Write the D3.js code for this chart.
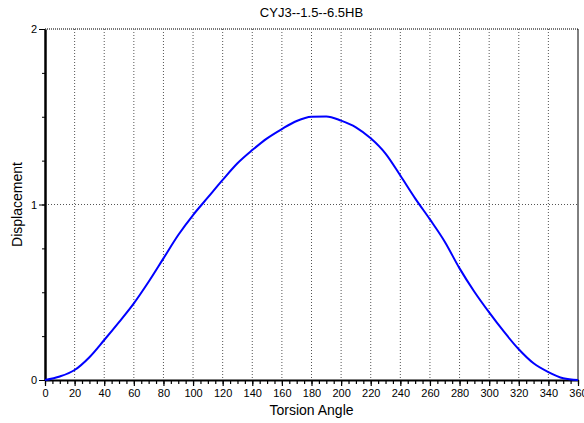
<!DOCTYPE html>
<html>
<head>
<meta charset="utf-8">
<script src="https://cdn.jsdelivr.net/npm/d3@7"></script>
<style>
  body { margin: 0; background: #fff; }
  text { font-family: "Liberation Sans", Arial, sans-serif; fill: #000; }
</style>
</head>
<body>
<div id="chart"></div>
<script>
// torsion angle (deg) vs displacement
var angles = [0,10,20,30,40,50,60,70,80,90,100,110,120,130,140,150,160,170,180,
              190,200,210,220,230,240,250,260,270,280,290,300,310,320,330,340,350,360];
var displacement = [0,0.02,0.057,0.13,0.228,0.33,0.437,0.56,0.693,0.826,0.94,1.04,1.14,1.235,1.31,1.377,1.43,1.476,1.50,
                    1.502,1.478,1.44,1.377,1.29,1.165,1.035,0.915,0.788,0.636,0.503,0.385,0.275,0.175,0.095,0.045,0.01,0];
var xTicks = d3.range(0, 361, 20);
var yTicks = [0, 1, 2];
var title = "CYJ3--1.5--6.5HB";

var data = angles.map(function(a, i) { return { a: a, v: displacement[i] }; });

const margin = { top: 29, right: 6, bottom: 43, left: 45 };
const width = 584 - margin.left - margin.right;
const height = 423 - margin.top - margin.bottom;

var svg = d3.select("#chart").append("svg")
  .attr("width", 584)
  .attr("height", 423);

var g = svg.append("g")
  .attr("transform", "translate(" + margin.left + "," + margin.top + ")");

var x = d3.scaleLinear().domain([0, 360]).range([0, width]);
var y = d3.scaleLinear().domain([0, 2]).range([height, 0]);

// grid
g.selectAll(".vgrid")
  .data(xTicks.filter(function(d) { return d > 0 && d < 360; }))
  .enter().append("line")
  .attr("x1", function(d) { return x(d); })
  .attr("x2", function(d) { return x(d); })
  .attr("y1", 0).attr("y2", height)
  .attr("stroke", "#555")
  .attr("stroke-dasharray", "1,2");

g.append("line")
  .attr("x1", 0).attr("x2", width)
  .attr("y1", y(1)).attr("y2", y(1))
  .attr("stroke", "#555")
  .attr("stroke-dasharray", "1,2");

// top border (grid at 2)
g.append("line")
  .attr("x1", 0).attr("x2", width)
  .attr("y1", y(2)).attr("y2", y(2))
  .attr("stroke", "#777")
  .attr("stroke-width", 2)
  .attr("stroke-dasharray", "1,1");

// right border
g.append("line")
  .attr("x1", width).attr("x2", width)
  .attr("y1", 0).attr("y2", height)
  .attr("stroke", "#000");

// minor ticks
g.append("g")
  .attr("transform", "translate(0," + height + ")")
  .call(d3.axisBottom(x).tickValues(d3.range(0, 361, 5)).tickSize(4).tickFormat(""))
  .call(function(s) { s.select(".domain").remove(); s.selectAll("line").attr("stroke-width", 1.2); });

g.append("g")
  .call(d3.axisLeft(y).tickValues(d3.range(0, 2.01, 0.25)).tickSize(3).tickFormat(""))
  .call(function(s) { s.select(".domain").remove(); });

// major axes
var xAxis = g.append("g")
  .attr("transform", "translate(0," + height + ")")
  .call(d3.axisBottom(x).tickValues(xTicks).tickSize(6).tickSizeOuter(0).tickPadding(3));
xAxis.select(".domain").attr("stroke-width", 2);
xAxis.selectAll("line").attr("stroke-width", 1.2);
xAxis.selectAll("text").style("font-size", "11px");

var yAxis = g.append("g")
  .call(d3.axisLeft(y).tickValues(yTicks).tickSize(6).tickSizeOuter(0).tickPadding(2).tickFormat(d3.format("d")));
yAxis.select(".domain").attr("stroke-width", 2.5);
yAxis.selectAll("text").style("font-size", "11px");

// curve
g.append("path")
  .datum(data)
  .attr("fill", "none")
  .attr("stroke", "#0000ff")
  .attr("stroke-width", 2)
  .attr("d", d3.line()
    .curve(d3.curveMonotoneX)
    .x(function(d) { return x(d.a); })
    .y(function(d) { return y(d.v); }));

// labels
svg.append("text")
  .attr("x", margin.left + width / 2)
  .attr("y", 17)
  .attr("text-anchor", "middle")
  .style("font-size", "13px")
  .text(title);

svg.append("text")
  .attr("x", margin.left + width / 2)
  .attr("y", 415)
  .attr("text-anchor", "middle")
  .style("font-size", "14px")
  .text("Torsion Angle");

svg.append("text")
  .attr("transform", "translate(22," + (margin.top + height / 2) + ") rotate(-90)")
  .attr("text-anchor", "middle")
  .style("font-size", "14px")
  .text("Displacement");
</script>
</body>
</html>
